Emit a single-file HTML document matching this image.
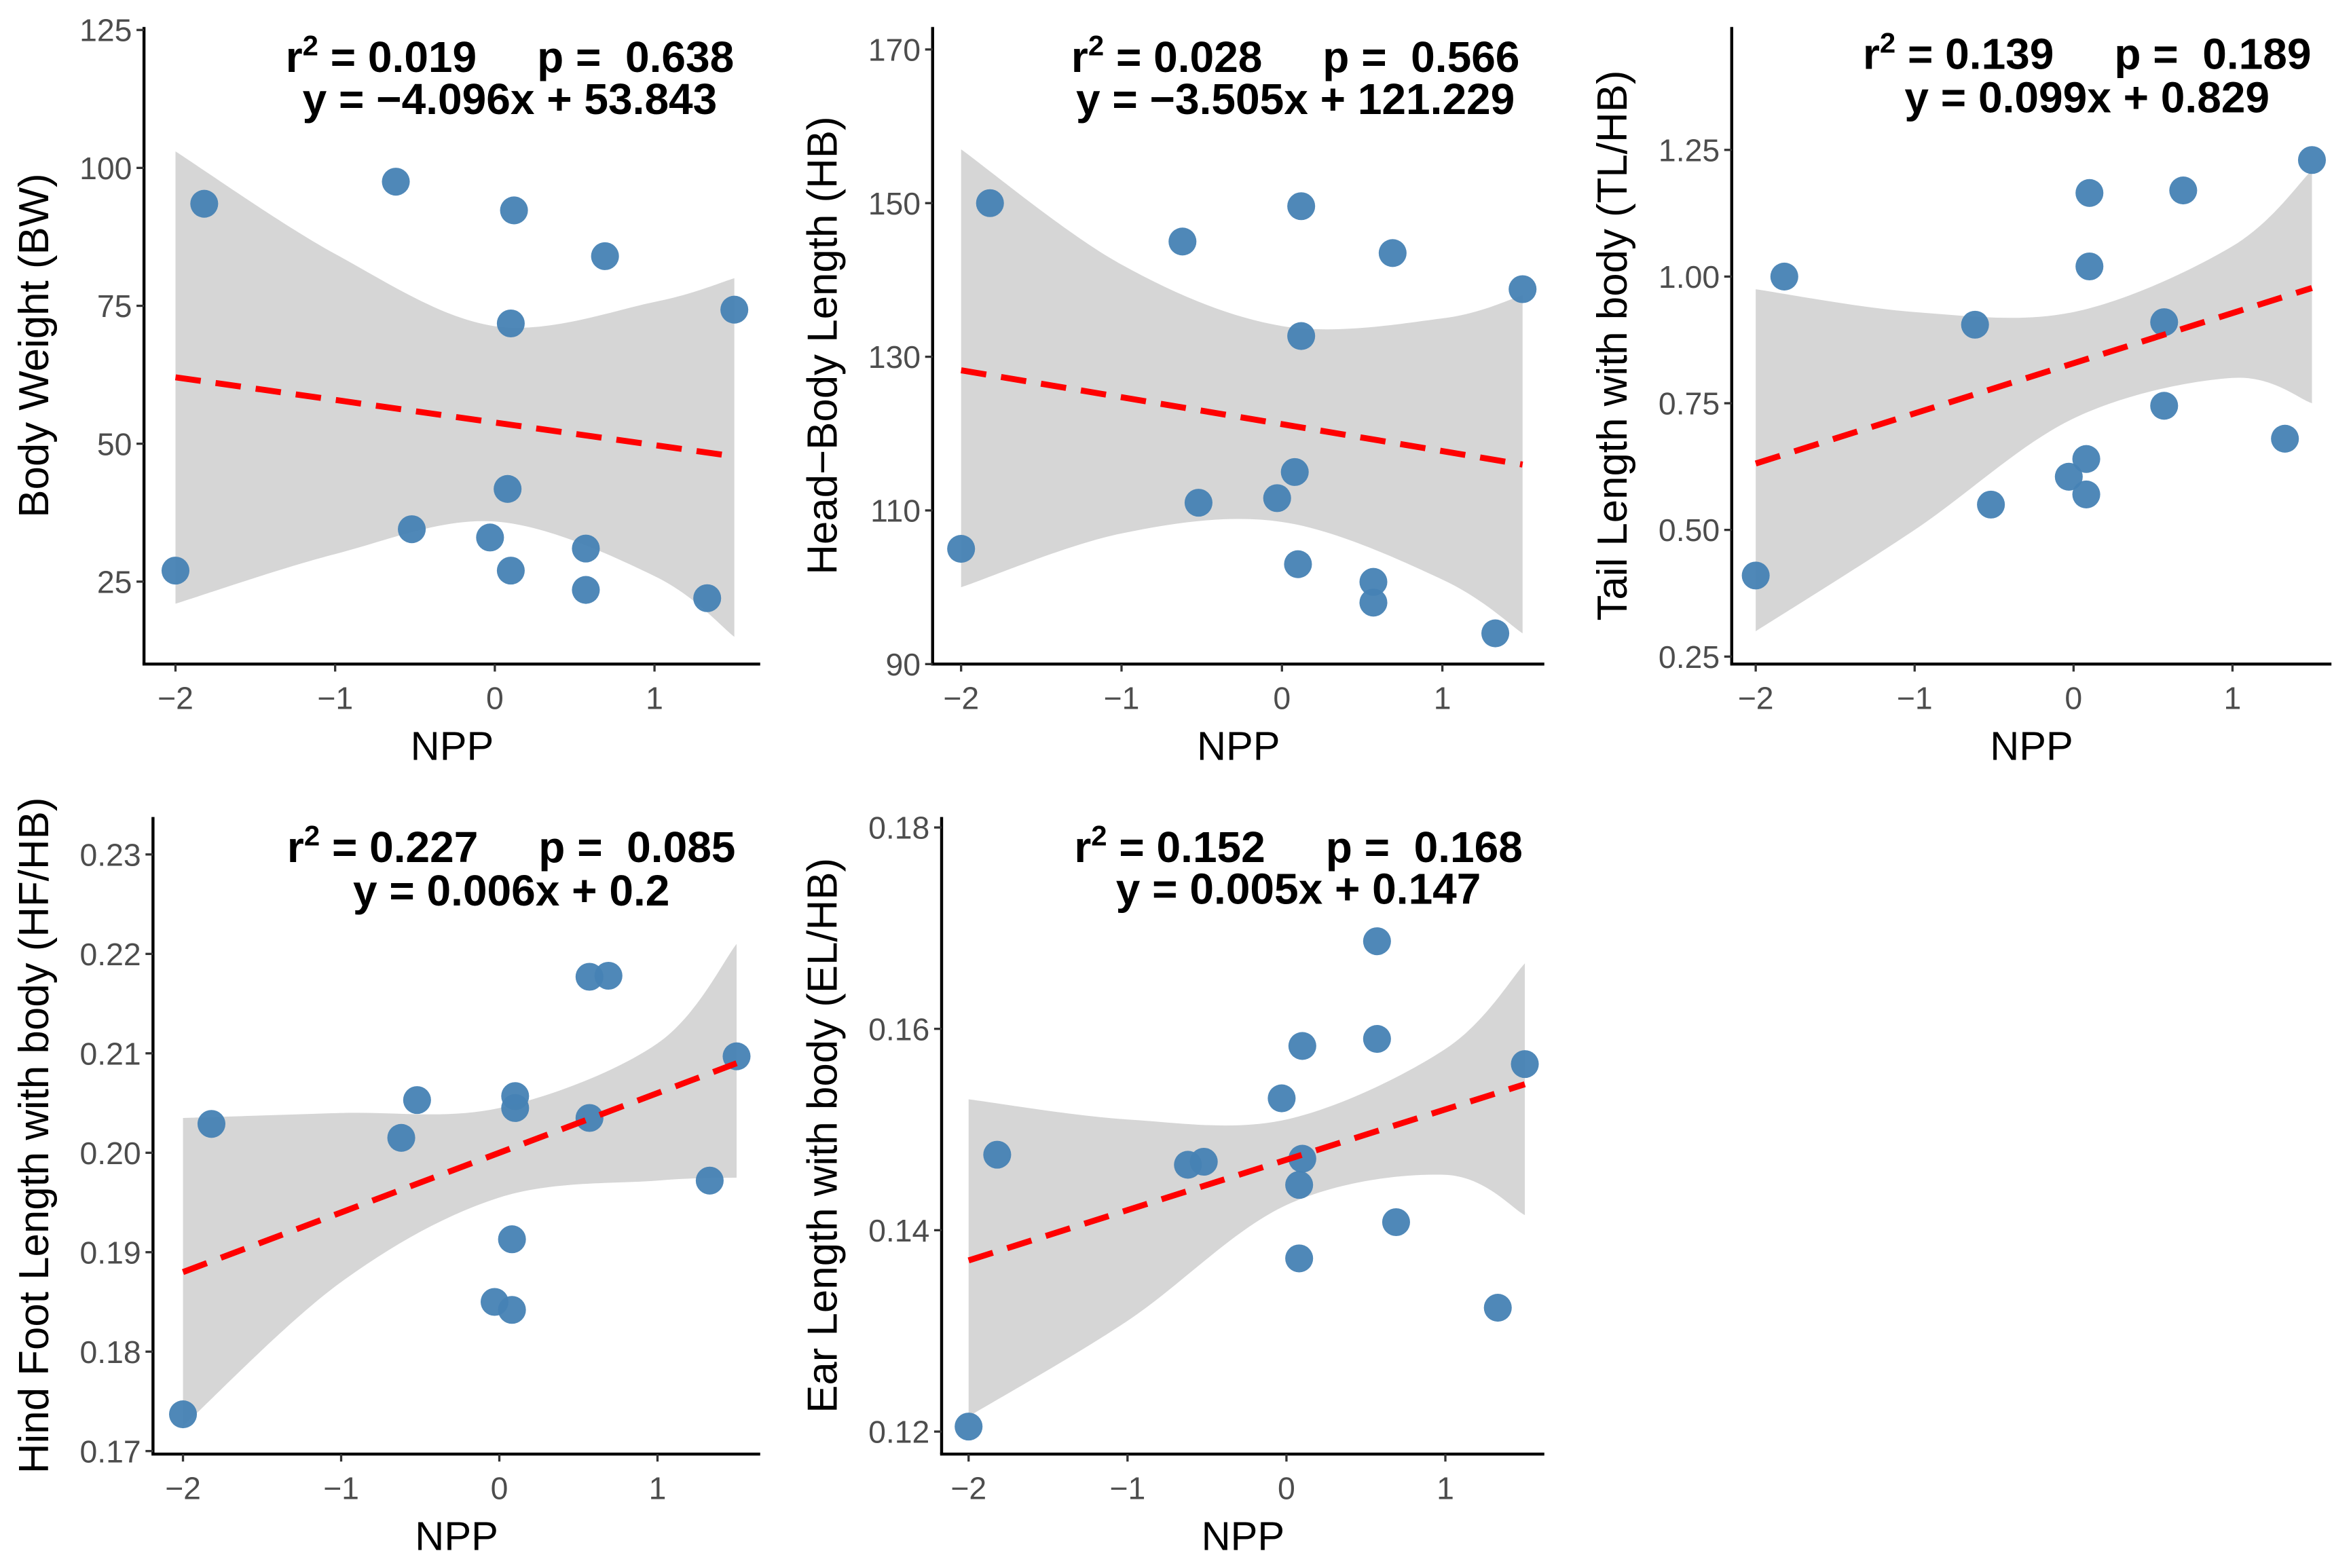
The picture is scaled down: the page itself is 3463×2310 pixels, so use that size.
<!DOCTYPE html>
<html><head><meta charset="utf-8">
<style>
html,body{margin:0;padding:0;background:#fff;}
svg{display:block;}
</style></head>
<body>
<svg id="chart" width="3463" height="2310" viewBox="0 0 1568 1046" xmlns="http://www.w3.org/2000/svg" font-family="'Liberation Sans', Arial, sans-serif"></svg>
<script>
// ---- data ----
const p1X = [-2, -1.82, -0.62, -0.52, -0.03, 0.08, 0.10, 0.10, 0.12, 0.57, 0.57, 0.69, 1.33, 1.50];
const p1Y = [27, 93.5, 97.5, 34.5, 33, 41.8, 27, 71.8, 92.3, 31, 23.5, 84, 22, 74.3];
const p2X = [-2, -1.82, -0.62, -0.52, -0.03, 0.08, 0.10, 0.12, 0.12, 0.57, 0.57, 0.69, 1.33, 1.50];
const p2Y = [105, 150, 145, 111, 111.6, 115, 103, 132.7, 149.6, 100.7, 98, 143.5, 94, 138.8];
const p3X = [-2, -1.82, -0.62, -0.52, -0.03, 0.08, 0.08, 0.10, 0.10, 0.57, 0.57, 0.69, 1.33, 1.50];
const p3Y = [0.41, 1.0, 0.905, 0.55, 0.605, 0.57, 0.64, 1.02, 1.165, 0.91, 0.745, 1.17, 0.68, 1.23];
const p4X = [-2, -1.82, -0.62, -0.52, -0.03, 0.08, 0.08, 0.10, 0.10, 0.57, 0.57, 0.69, 1.33, 1.50];
const p4Y = [0.1737, 0.2029, 0.2015, 0.2053, 0.185, 0.1842, 0.1913, 0.2045, 0.2057, 0.2177, 0.2035, 0.2178, 0.1972, 0.2097];
const p5X = [-2, -1.82, -0.62, -0.52, -0.03, 0.08, 0.08, 0.10, 0.10, 0.57, 0.57, 0.69, 1.33, 1.50];
const p5Y = [0.1205, 0.1475, 0.1465, 0.1468, 0.1531, 0.1445, 0.1372, 0.1471, 0.1583, 0.1687, 0.1590, 0.1408, 0.1323, 0.1565];

const bandX = [-2, -1, 0, 1, 1.5];
const p1Upper = [103, 84.4, 71.3, 75.7, 80];
const p1Lower = [21, 30, 35.9, 26, 15];
const p2Upper = [157, 142, 134, 135, 138];
const p2Lower = [100, 107, 108.5, 101, 94];
const p3Upper = [0.975, 0.93, 0.93, 1.06, 1.21];
const p3Lower = [0.30, 0.50, 0.72, 0.80, 0.75];
const p4Upper = [0.2035, 0.204, 0.2045, 0.211, 0.221];
const p4Lower = [0.1725, 0.187, 0.1955, 0.1972, 0.1975];
const p5Upper = [0.153, 0.151, 0.151, 0.158, 0.1665];
const p5Lower = [0.1215, 0.131, 0.1425, 0.1455, 0.1415];

const slopes = [-4.096, -3.505, 0.099, 0.006, 0.005];
const intercepts = [53.843, 121.229, 0.829, 0.2, 0.147];
const r2Labels = ["0.019", "0.028", "0.139", "0.227", "0.152"];
const pLabels = ["0.638", "0.566", "0.189", "0.085", "0.168"];
const eqLabels = ["y = \u22124.096x + 53.843", "y = \u22123.505x + 121.229", "y = 0.099x + 0.829", "y = 0.006x + 0.2", "y = 0.005x + 0.147"];
const xTicks = [-2, -1, 0, 1];
const xTickLabels = ["\u22122", "\u22121", "0", "1"];
const p1YTicks = [25, 50, 75, 100, 125];
const p2YTicks = [90, 110, 130, 150, 170];
const p3YTicks = [0.25, 0.5, 0.75, 1.0, 1.25];
const p3YTickLabels = ["0.25", "0.50", "0.75", "1.00", "1.25"];
const p4YTicks = [0.17, 0.18, 0.19, 0.20, 0.21, 0.22, 0.23];
const p4YTickLabels = ["0.17", "0.18", "0.19", "0.20", "0.21", "0.22", "0.23"];
const p5YTicks = [0.12, 0.14, 0.16, 0.18];
const p5YTickLabels = ["0.12", "0.14", "0.16", "0.18"];
const yTitles = ["Body Weight (BW)", "Head\u2212Body Length (HB)", "Tail Length with body  (TL/HB)", "Hind Foot Length with body (HF/HB)", "Ear Length with body  (EL/HB)"];

// ---- layout (display coords) ----
const layouts = [
  {ax:96, top:18, bottom:443, right:507, x0:330, x1:436.5, yv0:25, yp0:388, yv1:125, yp1:20, titleX:22, tx:340, t1:48, t2:76},
  {ax:622, top:18, bottom:443, right:1030, x0:855, x1:962, yv0:90, yp0:443, yv1:170, yp1:33, titleX:548, tx:864, t1:48, t2:76},
  {ax:1155, top:18, bottom:443, right:1555, x0:1383, x1:1489, yv0:0.25, yp0:438, yv1:1.25, yp1:100, titleX:1075, tx:1392, t1:46, t2:75},
  {ax:102, top:545, bottom:970, right:507, x0:333, x1:438.5, yv0:0.17, yp0:968, yv1:0.23, yp1:570, titleX:22, tx:341, t1:575, t2:604},
  {ax:628, top:545, bottom:970, right:1030, x0:858, x1:964, yv0:0.12, yp0:955, yv1:0.18, yp1:552, titleX:548, tx:866, t1:575, t2:603}
];

const panels = [
  {xs:p1X, ys:p1Y, up:p1Upper, lo:p1Lower, ticks:p1YTicks, tickLabels:p1YTicks.map(String)},
  {xs:p2X, ys:p2Y, up:p2Upper, lo:p2Lower, ticks:p2YTicks, tickLabels:p2YTicks.map(String)},
  {xs:p3X, ys:p3Y, up:p3Upper, lo:p3Lower, ticks:p3YTicks, tickLabels:p3YTickLabels},
  {xs:p4X, ys:p4Y, up:p4Upper, lo:p4Lower, ticks:p4YTicks, tickLabels:p4YTickLabels},
  {xs:p5X, ys:p5Y, up:p5Upper, lo:p5Lower, ticks:p5YTicks, tickLabels:p5YTickLabels}
];

const NS = "http://www.w3.org/2000/svg";
const svg = document.getElementById('chart');
function mk(tag, attrs, parent) {
  const e = document.createElementNS(NS, tag);
  for (const k in attrs) e.setAttribute(k, attrs[k]);
  parent.appendChild(e);
  return e;
}
function smoothPath(pts) {
  let d = "";
  for (let i = 0; i < pts.length - 1; i++) {
    const p0 = pts[Math.max(0, i - 1)], p1 = pts[i], p2 = pts[i + 1], p3 = pts[Math.min(pts.length - 1, i + 2)];
    const c1 = [p1[0] + (p2[0] - p0[0]) / 6, p1[1] + (p2[1] - p0[1]) / 6];
    const c2 = [p2[0] - (p3[0] - p1[0]) / 6, p2[1] - (p3[1] - p1[1]) / 6];
    d += " C" + c1[0] + "," + c1[1] + " " + c2[0] + "," + c2[1] + " " + p2[0] + "," + p2[1];
  }
  return d;
}

panels.forEach((P, i) => {
  const L = layouts[i];
  const sx = v => L.x0 + v * (L.x1 - L.x0);
  const sy = v => L.yp0 + (v - L.yv0) * (L.yp1 - L.yp0) / (L.yv1 - L.yv0);
  const g = mk('g', {}, svg);
  
  

  const upPts = bandX.map((x, k) => [sx(x), sy(P.up[k])]);
  const loPts = bandX.map((x, k) => [sx(x), sy(P.lo[k])]).reverse();
  const d = "M" + upPts[0][0] + "," + upPts[0][1] + smoothPath(upPts) +
          " L" + loPts[0][0] + "," + loPts[0][1] + smoothPath(loPts) + " Z";
  const band = mk('path', {d: d, fill: '#d6d6d6'}, g);
  
  

  P.xs.forEach((x, k) => {
    const c = mk('circle', {cx: sx(x), cy: sy(P.ys[k]), r: 9.3, fill: '#4682b4', 'fill-opacity': 0.95}, g);
    
    
  });

  const xa = bandX[0], xb = bandX[bandX.length - 1];
  const ln = mk('line', {x1: sx(xa), y1: sy(slopes[i] * xa + intercepts[i]), x2: sx(xb), y2: sy(slopes[i] * xb + intercepts[i]),
    stroke: '#ff0000', 'stroke-width': 4, 'stroke-dasharray': '17,10'}, g);
  
  

  const ya = mk('line', {x1: L.ax, y1: L.top, x2: L.ax, y2: L.bottom, stroke: '#000', 'stroke-width': 2}, g);
  
  
  const xaL = mk('line', {x1: L.ax - 1, y1: L.bottom, x2: L.right, y2: L.bottom, stroke: '#000', 'stroke-width': 2}, g);
  
  

  xTicks.forEach((t, k) => {
    mk('line', {x1: sx(t), y1: L.bottom, x2: sx(t), y2: L.bottom + 5, stroke: '#333', 'stroke-width': 1.5}, g);
    const tl = mk('text', {x: sx(t), y: L.bottom + 30, 'text-anchor': 'middle', 'font-size': 21, fill: '#4d4d4d'}, g);
    tl.textContent = xTickLabels[k];
    
    
  });
  P.ticks.forEach((t, k) => {
    mk('line', {x1: L.ax - 5, y1: sy(t), x2: L.ax, y2: sy(t), stroke: '#333', 'stroke-width': 1.5}, g);
    const tl = mk('text', {x: L.ax - 8, y: sy(t) + 7.5, 'text-anchor': 'end', 'font-size': 21, fill: '#4d4d4d'}, g);
    tl.textContent = P.tickLabels[k];
    
    
  });

  const xt = mk('text', {x: (L.ax + L.right) / 2, y: L.bottom + 64, 'text-anchor': 'middle', 'font-size': 27, fill: '#000'}, g);
  xt.textContent = 'NPP';
  
  
  const cy = (L.top + L.bottom) / 2;
  const yt = mk('text', {x: L.titleX + 10, y: cy, 'text-anchor': 'middle', 'font-size': 28, fill: '#000',
    transform: 'rotate(-90 ' + (L.titleX + 10) + ' ' + cy + ')'}, g);
  yt.textContent = yTitles[i];
  
  

  const a1 = mk('text', {x: L.tx, y: L.t1, 'text-anchor': 'middle', 'font-size': 29, 'font-weight': 'bold', fill: '#000'}, g);
  
  
  a1.innerHTML = 'r<tspan dy="-11" font-size="19">2</tspan><tspan dy="11"> = ' + r2Labels[i] + '\u00a0\u00a0\u00a0\u00a0\u00a0p = \u00a0' + pLabels[i] + '</tspan>';
  const a2 = mk('text', {x: L.tx, y: L.t2, 'text-anchor': 'middle', 'font-size': 29, 'font-weight': 'bold', fill: '#000'}, g);
  a2.textContent = eqLabels[i];
  
  
});
</script>
</body></html>
